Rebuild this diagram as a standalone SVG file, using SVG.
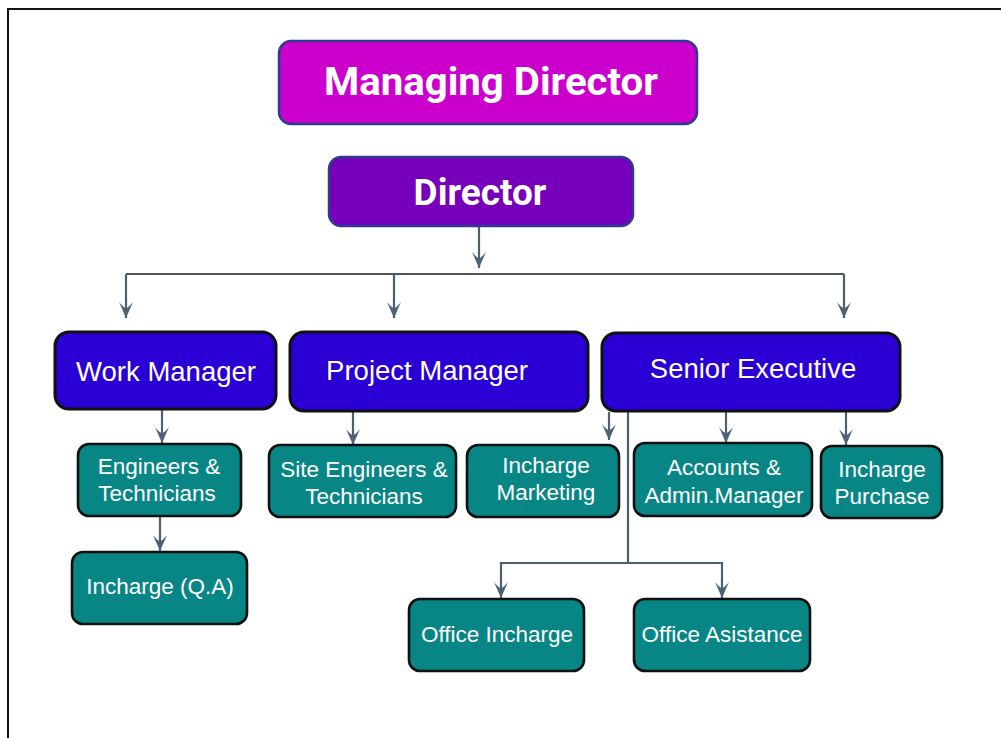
<svg xmlns="http://www.w3.org/2000/svg" width="1001" height="738" viewBox="0 0 1001 738">
<style>
.top{stroke:#2f3b8f;stroke-width:2.5}
.l2{fill:#2a00d4;stroke:#111;stroke-width:3}
.l3{fill:#088585;stroke:#111;stroke-width:2.6}
.tb{font-family:Roboto,"Liberation Sans",sans-serif;font-weight:bold;fill:#fff;text-anchor:middle}
.t2{font-family:"Liberation Sans",Arial,sans-serif;font-size:27.5px;fill:#fff;text-anchor:middle}
.t3{font-family:"Liberation Sans",Arial,sans-serif;font-size:22.5px;fill:#fff;text-anchor:middle}
.c{fill:none;stroke:#4d6070;stroke-width:2.2}
</style>
<defs>
<marker id="ah" markerWidth="18" markerHeight="16" refX="17" refY="8" orient="auto" markerUnits="userSpaceOnUse" viewBox="0 0 18 16">
<path d="M17,8 L1,1 Q6,5 7.5,8 Q6,11 1,15 Z" fill="#4d6274"/>
</marker>
</defs>
<rect x="0" y="0" width="1001" height="738" fill="#fff"/>
<path d="M8,738 V9 H1001" fill="none" stroke="#111" stroke-width="2"/>

<g id="connectors">
<path class="c" d="M479,226 V268" marker-end="url(#ah)"/>
<path class="c" d="M126,274 H844" style="stroke:#555"/>
<path class="c" d="M126,274 V318" marker-end="url(#ah)"/>
<path class="c" d="M394,274 V318" marker-end="url(#ah)"/>
<path class="c" d="M844,274 V318" marker-end="url(#ah)"/>
<path class="c" d="M162,409 V443" marker-end="url(#ah)"/>
<path class="c" d="M160,516 V551" marker-end="url(#ah)"/>
<path class="c" d="M353,411 V445" marker-end="url(#ah)"/>
<path class="c" d="M609,412 V440" marker-end="url(#ah)"/>
<path class="c" d="M726,412 V443" marker-end="url(#ah)"/>
<path class="c" d="M846,412 V445" marker-end="url(#ah)"/>
<path class="c" d="M628,412 V563 H501 V598" marker-end="url(#ah)"/>
<path class="c" d="M628,563 H722 V598" marker-end="url(#ah)"/>
</g>

<g id="managing-director">
<rect class="top" x="279" y="41" width="418" height="83" rx="12" fill="#cc00cc"/>
<text class="tb" x="491" y="95" font-size="38" textLength="334" lengthAdjust="spacingAndGlyphs">Managing Director</text>
</g>
<g id="director">
<rect class="top" x="329" y="157" width="304" height="69" rx="12" fill="#7700bb"/>
<text class="tb" x="480" y="205" font-size="37">Director</text>
</g>

<g id="work-manager">
<rect class="l2" x="55" y="332" width="221" height="77" rx="14"/>
<text class="t2" x="166" y="381">Work Manager</text>
</g>
<g id="project-manager">
<rect class="l2" x="290" y="332" width="298" height="79" rx="14"/>
<text class="t2" x="427" y="380">Project Manager</text>
</g>
<g id="senior-executive">
<rect class="l2" x="602" y="333" width="298" height="78" rx="14"/>
<text class="t2" x="753" y="378">Senior Executive</text>
</g>

<g id="engineers-technicians">
<rect class="l3" x="78" y="444" width="163" height="72" rx="11"/>
<text class="t3" x="159" y="474">Engineers &amp;</text>
<text class="t3" x="157" y="501">Technicians</text>
</g>
<g id="incharge-qa">
<rect class="l3" x="72" y="552" width="175" height="72" rx="11"/>
<text class="t3" x="160" y="594">Incharge (Q.A)</text>
</g>
<g id="site-engineers">
<rect class="l3" x="269" y="445" width="187" height="72" rx="11"/>
<text class="t3" x="364" y="477">Site Engineers &amp;</text>
<text class="t3" x="364" y="504">Technicians</text>
</g>
<g id="incharge-marketing">
<rect class="l3" x="467" y="445" width="152" height="72" rx="11"/>
<text class="t3" x="546" y="473">Incharge</text>
<text class="t3" x="546" y="500">Marketing</text>
</g>
<g id="accounts-admin">
<rect class="l3" x="634" y="443" width="178" height="73" rx="11"/>
<text class="t3" x="724" y="475">Accounts &amp;</text>
<text class="t3" x="724" y="503">Admin.Manager</text>
</g>
<g id="incharge-purchase">
<rect class="l3" x="821" y="446" width="121" height="72" rx="11"/>
<text class="t3" x="882" y="477">Incharge</text>
<text class="t3" x="882" y="504">Purchase</text>
</g>
<g id="office-incharge">
<rect class="l3" x="409" y="599" width="175" height="72" rx="11"/>
<text class="t3" x="497" y="642">Office Incharge</text>
</g>
<g id="office-asistance">
<rect class="l3" x="634" y="599" width="176" height="72" rx="11"/>
<text class="t3" x="722" y="642">Office Asistance</text>
</g>
</svg>
